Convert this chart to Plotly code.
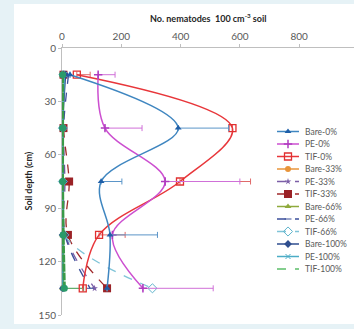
import plotly.graph_objects as go

depths = [15, 45, 75, 105, 135]

series_names = ["Bare-0%", "PE-0%", "TIF-0%", "Bare-33%", "PE-33%", "TIF-33%",
                "Bare-66%", "PE-66%", "TIF-66%", "Bare-100%", "PE-100%", "TIF-100%"]

bare_0 = [27, 392, 132, 162, 152]
bare_0_err = [0, 170, 70, 160, 0]
pe_0 = [122, 145, 348, 170, 273]
pe_0_err = [57, 125, 252, 0, 237]
tif_0 = [50, 575, 398, 125, 70]
tif_0_err = [45, 0, 238, 88, 0]
bare_33 = [3, 3, 3, 3, 3]
pe_33 = [8, 5, 10, 12, 110]
tif_33 = [5, 5, 24, 20, 152]
bare_66 = [2, 2, 2, 2, 2]
pe_66 = [22, 5, 6, 10, 95]
tif_66 = [5, 3, 3, 8, 305]
bare_100 = [12, 2, 2, 2, 3]
pe_100 = [8, 2, 2, 3, 3]
tif_100 = [2, 2, 2, 4, 8]
tif_100_err = [0, 0, 0, 0, 65]

x_ticks = [0, 200, 400, 600, 800]
y_ticks = [0, 30, 60, 90, 120, 150]

values = [bare_0, pe_0, tif_0, bare_33, pe_33, tif_33, bare_66, pe_66, tif_66, bare_100, pe_100, tif_100]
errors = [bare_0_err, pe_0_err, tif_0_err] + [None] * 8 + [tif_100_err]

styles = [
    dict(line=dict(color="#3f86c0", width=1.5, dash="solid"), marker=dict(symbol="triangle-up", color="#1f5fa8", size=6)),
    dict(line=dict(color="#cc4fd0", width=1.5, dash="solid"), marker=dict(symbol="cross-thin", color="#b03cc0", size=6, line=dict(color="#b03cc0", width=1.5))),
    dict(line=dict(color="#e8363a", width=1.5, dash="solid"), marker=dict(symbol="square-open", color="#e03030", size=7, line=dict(width=1.3))),
    dict(line=dict(color="#e8943a", width=1.5, dash="solid"), marker=dict(symbol="circle", color="#e8943a", size=6)),
    dict(line=dict(color="#7b5ea7", width=1.3, dash="dash"), marker=dict(symbol="star", color="#7b5ea7", size=5)),
    dict(line=dict(color="#a0282a", width=1.3, dash="dash"), marker=dict(symbol="square", color="#9b2226", size=8)),
    dict(line=dict(color="#8faa3c", width=1.5, dash="solid"), marker=dict(symbol="triangle-up", color="#8faa3c", size=6)),
    dict(line=dict(color="#3b4f9a", width=1.3, dash="dash"), marker=dict(symbol="line-ew", color="#3b4f9a", size=5, line=dict(color="#3b4f9a", width=1))),
    dict(line=dict(color="#7fc4d8", width=1.3, dash="dash"), marker=dict(symbol="diamond-open", color="#5fb4cc", size=7, line=dict(width=1))),
    dict(line=dict(color="#2f4e8f", width=1.5, dash="solid"), marker=dict(symbol="diamond", color="#2f4e8f", size=6)),
    dict(line=dict(color="#4bacc6", width=1.5, dash="solid"), marker=dict(symbol="x-thin", color="#4bacc6", size=5, line=dict(color="#4bacc6", width=1))),
    dict(line=dict(color="#3a9a48", width=3, dash="8px,1px"), marker=dict(symbol="circle", color="#2a9a6a", size=7)),
]
legend_override = {11: dict(line=dict(color="#5cbf6a", width=1.4, dash="dash"), marker=None)}

err_colors = ["#5b95c8", "#d070d8", "#e06a6a"] + [None] * 8 + ["#3a9a48"]

fig = go.Figure()

order = list(range(3, len(series_names))) + [2, 1, 0]
for i in order:
    st = styles[i]
    kw = {}
    if errors[i] is not None:
        kw["error_x"] = dict(type="data", array=errors[i], arrayminus=[0] * len(depths),
                             symmetric=False, color=err_colors[i], thickness=1, width=3)
    fig.add_trace(go.Scatter(
        x=values[i], y=depths, mode="lines+markers", name=series_names[i],
        line=dict(shape="spline", smoothing=1.0, **st["line"]),
        marker=st["marker"], showlegend=False, cliponaxis=False, **kw))

# Custom legend drawn in a pixel-unit overlay axis
row_pitch = 12.5
for i, name in enumerate(series_names):
    st = legend_override.get(i, styles[i])
    yrow = 11.5 + row_pitch * i
    fig.add_trace(go.Scatter(x=[5, 27], y=[yrow, yrow], mode="lines", xaxis="x2", yaxis="y2",
                             line=dict(color=st["line"]["color"], width=min(st["line"]["width"], 1.8),
                                       dash=st["line"]["dash"]), showlegend=False, hoverinfo="skip"))
    if st["marker"] is not None:
        fig.add_trace(go.Scatter(x=[16], y=[yrow], mode="markers", xaxis="x2", yaxis="y2",
                                 marker=st["marker"], showlegend=False, hoverinfo="skip"))
    fig.add_annotation(x=31, y=yrow, xref="x2", yref="y2", text=name, showarrow=False,
                       xanchor="left", yanchor="middle", font=dict(size=8.5, color="#595959"))

FONT = "Lato, Liberation Sans, Arial, sans-serif"

fig.add_annotation(x=(208 - 62) / 292, y=(315 - 18) / 267, xref="paper", yref="paper",
                   text="<b>No. nematodes  100 cm<sup>-3</sup> soil</b>", showarrow=False,
                   xanchor="center", yanchor="middle", font=dict(size=9, color="#262626"))
fig.add_annotation(x=(28 - 62) / 292, y=0.5, xref="paper", yref="paper",
                   text="<b>Soil depth (cm)</b>", showarrow=False, textangle=-90,
                   xanchor="center", yanchor="middle", font=dict(size=9, color="#262626"))

fig.update_layout(
    width=354, height=329,
    margin=dict(l=62, r=0, t=48, b=14),
    paper_bgcolor="#e6f2f6",
    plot_bgcolor="white",
    font=dict(family=FONT, size=10, color="#595959"),
    showlegend=False,
    xaxis=dict(
        side="top", range=[0, 985], tickvals=x_ticks, ticktext=[str(v) for v in x_ticks],
        showgrid=False, zeroline=False, showline=True, linecolor="#bfbfbf", linewidth=1,
        ticks="outside", ticklen=3, tickcolor="#bfbfbf", tickfont=dict(size=10, color="#595959"),
        automargin=False, layer="below traces",
    ),
    yaxis=dict(
        range=[150, 0], tickvals=y_ticks, ticktext=[str(v) for v in y_ticks],
        showgrid=False, zeroline=False, showline=True, linecolor="#bfbfbf", linewidth=1,
        ticks="outside", ticklen=3, tickcolor="#bfbfbf", tickfont=dict(size=10, color="#595959"),
        automargin=False, layer="below traces",
    ),
    xaxis2=dict(domain=[(272 - 62) / 292, 1], range=[0, 82], visible=False, anchor="y2", fixedrange=True),
    yaxis2=dict(domain=[(315 - 290) / 267, (315 - 120) / 267], range=[170, 0], visible=False, anchor="x2", fixedrange=True),
    shapes=[dict(type="rect", xref="paper", yref="paper", layer="below",
                 x0=(14 - 62) / 292, x1=1.05, y0=(315 - 324) / 267, y1=(315 - 4) / 267,
                 fillcolor="white", line=dict(width=0))],
)

fig.write_html("out.html", config={"displayModeBar": False},
               post_script="document.body.style.margin='0';document.body.style.overflow='hidden';")
